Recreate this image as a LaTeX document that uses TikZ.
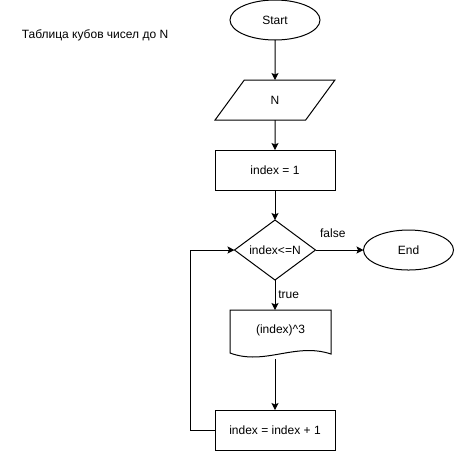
\documentclass[tikz,border=0pt]{standalone}
\usepackage{fontspec}
\setmainfont{Liberation Sans}
\usetikzlibrary{arrows.meta,positioning,shapes.geometric}

\begin{document}
\begin{tikzpicture}[x=1pt,y=-1pt,>={Stealth[length=7pt,width=7pt,inset=1.5pt]},auto,node distance=30pt,
	line width=1pt,font=\fontsize{12}{14}\selectfont,every node/.style={outer sep=0pt},
	term node/.style={ellipse,draw,minimum width=90pt,minimum height=40pt,inner sep=0pt},
	io node/.style={trapezium,draw,trapezium left angle=63.4,trapezium right angle=116.6,
		trapezium stretches=true,minimum width=120pt,minimum height=40pt,inner sep=0pt},
	proc node/.style={rectangle,draw,minimum width=120pt,minimum height=40pt,inner sep=0pt},
	dec node/.style={diamond,draw,minimum width=81pt,minimum height=60pt,inner sep=0pt,shape aspect=1.35},
	doc node/.style={rectangle,minimum width=101pt,minimum height=40pt,inner sep=0pt}]

	\useasboundingbox (0,0) rectangle (455,451);

	\node (title) at (95,35) {Таблица кубов чисел до N};

	\node[term node] (start) at (275,20) {Start};
	\node[io node] (input) [below=40pt of start] {N};
	\node[proc node] (init) [below=of input] {index = 1};
	\node[dec node] (check) [below=of init] {index<=N};
	\node[term node] (end) [right=48pt of check] {End};
	\node[doc node] (cube) [below=of check,xshift=5.5pt] {(index)\textasciicircum3};
	\node[proc node] (incr) [below=130pt of check] {index = index + 1};

	% document outline with wavy bottom
	\draw (cube.north west) -- (cube.north east) -- ([yshift=-4pt]cube.south east)
		.. controls ([xshift=-36pt,yshift=8pt]cube.south east) and ([xshift=35pt,yshift=-16pt]cube.south west)
		.. ([yshift=-3pt]cube.south west) -- cycle;

	\draw[->] (start) -- (input);
	\draw[->] (input) -- (init);
	\draw[->] (init) -- (check);
	\path[->] (check) edge node[above=9pt,pos=0.36] {false} (end);
	\draw[->] (check) -- node {true} (check |- cube.north);
	\draw[->] (incr.north |- cube.south) ++(0,-9pt) -- (incr);
	\draw[->] (incr.west) -- ++(-25pt,0) |- (check.west);
\end{tikzpicture}
\end{document}
